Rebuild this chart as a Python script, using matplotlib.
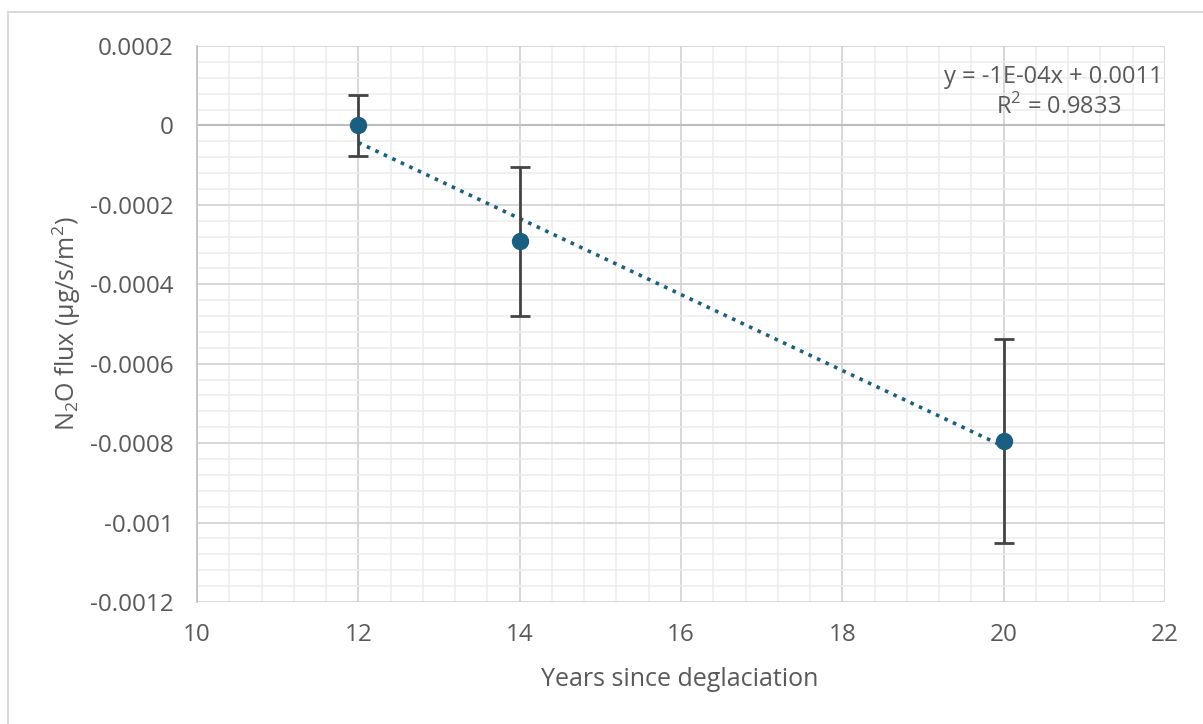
import numpy as np
import matplotlib
matplotlib.use("Agg")
import matplotlib.pyplot as plt
from matplotlib.ticker import MultipleLocator, FuncFormatter
from matplotlib.lines import Line2D

# data
years = [12, 14, 20]
flux = [0.0, -0.000292, -0.000794]
flux_err = [0.000077, 0.000187, 0.000257]
eq_text = "y = -1E-04x + 0.0011"
r2_text = "R$^2$ = 0.9833"

TEXT = "#595959"
MARK = "#1a5f80"

plt.rcParams["font.family"] = ["Open Sans", "DejaVu Sans"]
plt.rcParams["mathtext.fontset"] = "custom"
plt.rcParams["mathtext.rm"] = "Open Sans"

fig = plt.figure(figsize=(12.03, 7.24), dpi=100)
fig.patch.set_facecolor("white")
ax = fig.add_axes([197 / 1203, 122 / 724, 968 / 1203, 556 / 724])

ax.xaxis.set_major_locator(MultipleLocator(2))
ax.xaxis.set_minor_locator(MultipleLocator(0.4))
ax.yaxis.set_major_locator(MultipleLocator(0.0002))
ax.yaxis.set_minor_locator(MultipleLocator(0.00004))
ax.yaxis.set_major_formatter(FuncFormatter(lambda v, p: "0" if abs(v) < 1e-12 else "{:g}".format(round(v, 6))))
ax.grid(which="major", color="#d4d4d4", linewidth=1.3)
ax.grid(which="minor", color="#ececec", linewidth=1.1)
ax.set_axisbelow(True)
for side in ("top", "right", "bottom"):
    ax.spines[side].set_visible(False)
ax.spines["left"].set_color("#c4c4c4")
ax.spines["left"].set_linewidth(1.3)
ax.axhline(0, color="#bdbdbd", linewidth=1.5, zorder=1)

ax.tick_params(which="both", length=0)
ax.tick_params(axis="y", pad=17, labelsize=17.5, labelcolor=TEXT)
ax.tick_params(axis="x", pad=15, labelsize=17.5, labelcolor=TEXT)

# linear trend line, dotted like Excel
slope, icpt = np.polyfit(years, flux, 1)
xs = np.array([min(years), max(years)])
ax.plot(xs, slope * xs + icpt, linestyle=(0, (1, 1.6)), color=MARK, linewidth=2.6, zorder=3)

ax.errorbar(years, flux, yerr=flux_err, fmt="o", color=MARK, markersize=11.5,
            ecolor="#444444", elinewidth=2, capsize=7, capthick=2, zorder=4)

ax.set_xlim(10, 22)
ax.set_ylim(-0.0012, 0.0002)

ax.text(0.9975, 0.945, eq_text, transform=ax.transAxes, ha="right", va="center",
        fontsize=17, color=TEXT)
ax.text(0.89, 0.89, r2_text, transform=ax.transAxes, ha="center", va="center",
        fontsize=17, color=TEXT)

fig.text(680 / 1203, 1 - 680 / 724, "Years since deglaciation", ha="center", va="center",
         fontsize=18, color=TEXT)
fig.text(67 / 1203, 1 - 324 / 724, "N$_2$O flux (µg/s/m$^2$)", ha="center", va="center",
         rotation=90, fontsize=18, color=TEXT)

# chart border (left and top edges visible)
fig.add_artist(Line2D([8 / 1203, 8 / 1203], [0, 1 - 12 / 724], transform=fig.transFigure,
                      color="#d9d9d9", linewidth=1.5))
fig.add_artist(Line2D([8 / 1203, 1], [1 - 12 / 724, 1 - 12 / 724], transform=fig.transFigure,
                      color="#d9d9d9", linewidth=1.5))

fig.savefig("out.png", dpi=100, facecolor="white")
